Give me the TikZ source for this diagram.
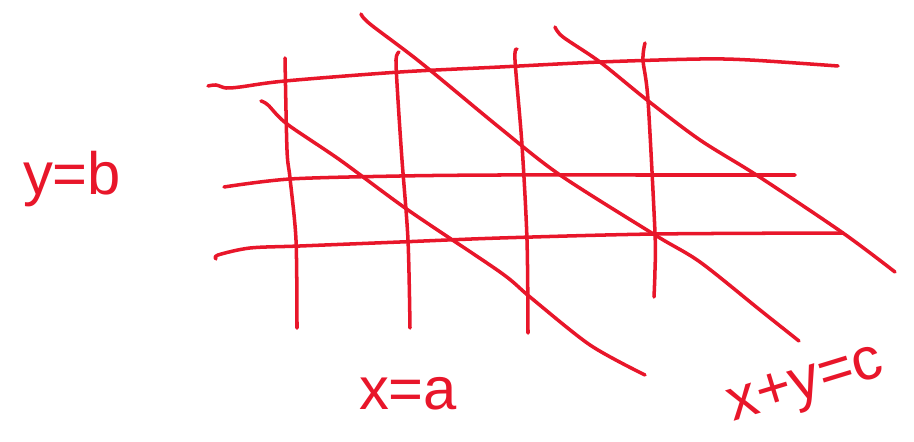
\documentclass[tikz,border=0pt]{standalone}
\usepackage{fontspec}
\setmainfont{Liberation Sans}
\definecolor{pen}{RGB}{232,22,42}

\begin{document}
\begin{tikzpicture}[
    x=0.02cm, y=-0.02cm,
    stroke/.style={draw=pen, line width=2pt, line cap=round, line join=round},
    hand/.style={text=pen, font=\fontsize{34}{40}\selectfont, inner sep=0pt}
  ]
  \useasboundingbox (0,0) rectangle (914,442);

  % y = b
  \draw[stroke] plot[smooth] coordinates {(208,86) (216,85) (226,88) (240,87) (285,81) (400,72) (500,67) (600,62) (700,59) (750,60) (838,66)};
  \draw[stroke] plot[smooth] coordinates {(224,187) (290,179) (400,176) (500,175) (650,175) (795,175)};
  \draw[stroke] plot[smooth] coordinates {(216,259) (218,255) (250,248) (300,246) (400,242) (500,238) (655,234) (843,233)};

  % x = a
  \draw[stroke] plot[smooth] coordinates {(285,58) (287,150) (290,178) (296,240) (297,328)};
  \draw[stroke] plot[smooth] coordinates {(399,52) (396,60) (398,100) (402,160) (408,240) (410,328)};
  \draw[stroke] plot[smooth] coordinates {(517,49) (515,60) (522,145) (527,240) (528,333)};
  \draw[stroke] plot[smooth] coordinates {(645,43) (643,60) (648,100) (655,233) (655,270) (654,297)};

  % x + y = c
  \draw[stroke] plot[smooth] coordinates {(261,101) (268,105) (287,124) (340,160) (408,210) (500,272) (530,297) (590,345) (645,375)};
  \draw[stroke] plot[smooth] coordinates {(361,14) (370,24) (420,62) (500,128) (560,175) (655,235) (700,262) (760,310) (799,341)};
  \draw[stroke] plot[smooth] coordinates {(555,27) (563,37) (600,62) (647,100) (700,140) (758,176) (843,233) (895,272)};

  \node[hand, anchor=base] (lblb) at (72,195) {y=b};
  \node[hand, anchor=base] (lbla) at (408,410) {x=a};
  \node[hand, anchor=base, rotate=17] (lblc) at (810,398) {x+y=c};
\end{tikzpicture}
\end{document}
